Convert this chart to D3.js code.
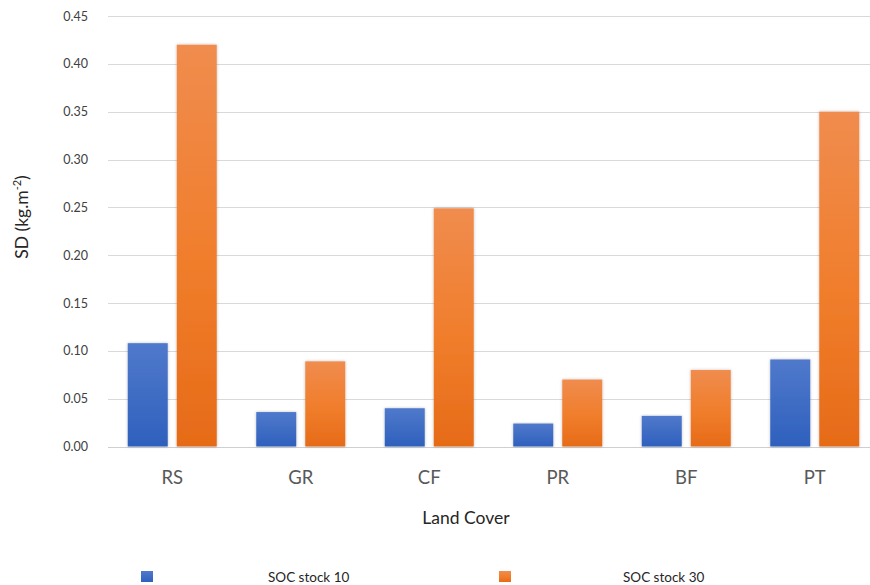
<!DOCTYPE html>
<html>
<head>
<meta charset="utf-8">
<script src="https://cdn.jsdelivr.net/npm/d3@7"></script>
<style>
  html, body { margin: 0; padding: 0; background: #ffffff; }
  svg { display: block; }
</style>
</head>
<body>
<svg id="chart" width="870" height="585"></svg>
<script>
const categories = ["RS", "GR", "CF", "PR", "BF", "PT"];
const seriesNames = ["SOC stock 10", "SOC stock 30"];
const soc10 = [0.108, 0.036, 0.040, 0.024, 0.032, 0.091];
const soc30 = [0.420, 0.089, 0.249, 0.070, 0.080, 0.350];
const yTicks = [0, 0.05, 0.10, 0.15, 0.20, 0.25, 0.30, 0.35, 0.40, 0.45];

const svg = d3.select("#chart");
const plot = { left: 108, right: 879, top: 16, bottom: 446.5 };

const defs = svg.append("defs");
const gradB = defs.append("linearGradient").attr("id", "gB").attr("x1", 0).attr("y1", 0).attr("x2", 0).attr("y2", 1);
gradB.append("stop").attr("offset", "0%").attr("stop-color", "#5079cb");
gradB.append("stop").attr("offset", "100%").attr("stop-color", "#2e60bd");
const gradO = defs.append("linearGradient").attr("id", "gO").attr("x1", 0).attr("y1", 0).attr("x2", 0).attr("y2", 1);
gradO.append("stop").attr("offset", "0%").attr("stop-color", "#f08c4e");
gradO.append("stop").attr("offset", "55%").attr("stop-color", "#f07d2b");
gradO.append("stop").attr("offset", "100%").attr("stop-color", "#e66b18");
const sh = defs.append("filter").attr("id", "sh").attr("x", "-20%").attr("y", "-5%").attr("width", "140%").attr("height", "110%");
sh.append("feDropShadow").attr("dx", 0).attr("dy", 0).attr("stdDeviation", 1.5).attr("flood-color", "#000").attr("flood-opacity", 0.25);

const y = d3.scaleLinear().domain([0, 0.45]).range([plot.bottom, plot.top]);
const x0 = d3.scaleBand().domain(categories).range([plot.left, plot.right]).padding(0);
const x1 = d3.scaleBand().domain(seriesNames).range([x0.bandwidth() / 2 - 44.5, x0.bandwidth() / 2 + 44.5]).paddingInner(0.184);

// y tick labels
const yAxis = d3.axisLeft(y).tickValues(yTicks).tickFormat(d3.format(".2f")).tickSize(0).tickPadding(0);
const gAxis = svg.append("g").attr("transform", `translate(${plot.left},0)`).call(yAxis);
gAxis.select(".domain").remove();
gAxis.selectAll(".tick line").remove();
gAxis.selectAll(".tick text")
  .attr("x", -20).attr("dy", "0.32em")
  .attr("font-family", "Lato, 'Open Sans', sans-serif").attr("font-size", 12.5).attr("fill", "#404040");

// gridlines
svg.append("g").selectAll("line").data(yTicks).join("line")
  .attr("x1", plot.left).attr("x2", plot.right)
  .attr("y1", d => Math.round(y(d)) + 0.5).attr("y2", d => Math.round(y(d)) + 0.5)
  .attr("stroke", d => d === 0 ? "#cfcfcf" : "#d9d9d9").attr("stroke-width", 1);

// bars
const rows = categories.map((c, i) => ({ c, vals: [soc10[i], soc30[i]] }));
const groups = svg.append("g").selectAll("g").data(rows).join("g")
  .attr("transform", d => `translate(${x0(d.c)},0)`);
groups.selectAll("rect").data(d => d.vals.map((v, j) => ({ s: seriesNames[j], v, j })))
  .join("rect")
  .attr("x", d => x1(d.s)).attr("width", x1.bandwidth())
  .attr("y", d => y(d.v)).attr("height", d => y(0) - y(d.v))
  .attr("fill", d => d.j === 0 ? "url(#gB)" : "url(#gO)")
  .attr("filter", "url(#sh)");

// x labels
const xAxis = d3.axisBottom(x0).tickSize(0).tickPadding(0);
const gx = svg.append("g").attr("transform", `translate(0,${plot.bottom})`).call(xAxis);
gx.select(".domain").remove();
gx.selectAll(".tick text").attr("y", 37).attr("dy", 0)
  .attr("font-family", "Lato, 'Open Sans', sans-serif").attr("font-size", 18.5).attr("fill", "#595959");

// axis titles
svg.append("text").attr("x", 466).attr("y", 524).attr("text-anchor", "middle")
  .attr("font-family", "Lato, 'Open Sans', sans-serif").attr("font-size", 17.5).attr("fill", "#262626")
  .text("Land Cover");
const yt = svg.append("text").attr("transform", "translate(28,217) rotate(-90)").attr("text-anchor", "middle")
  .attr("font-family", "Lato, 'Open Sans', sans-serif").attr("font-size", 17.5).attr("fill", "#262626");
yt.append("tspan").text("SD (kg.m");
yt.append("tspan").attr("font-size", 11).attr("dy", -7).text("-2");
yt.append("tspan").attr("dy", 7).text(")");

// legend
const legend = [
  { name: seriesNames[0], fill: "url(#gB)", sx: 141, tx: 268 },
  { name: seriesNames[1], fill: "url(#gO)", sx: 499, tx: 623 }
];
const lg = svg.append("g").selectAll("g").data(legend).join("g");
lg.append("rect").attr("x", d => d.sx).attr("y", 571).attr("width", 12).attr("height", 11).attr("fill", d => d.fill);
lg.append("text").attr("x", d => d.tx).attr("y", 582)
  .attr("font-family", "Lato, 'Open Sans', sans-serif").attr("font-size", 13.5).attr("fill", "#262626")
  .text(d => d.name);
</script>
</body>
</html>
